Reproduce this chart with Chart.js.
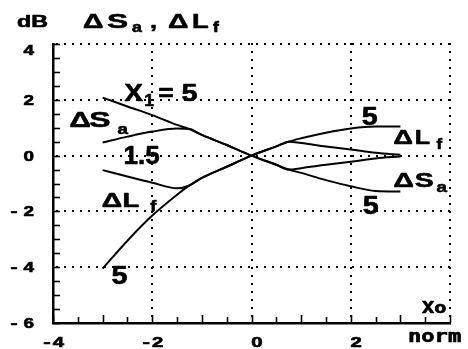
<!DOCTYPE html>
<html>
<head>
<meta charset="utf-8">
<script src="https://cdn.jsdelivr.net/npm/chart.js@4/dist/chart.umd.min.js"></script>
<style>
  html, body { margin: 0; padding: 0; background: #fff; }
</style>
</head>
<body>
<canvas id="c" width="468" height="349"></canvas>
<script>
// Normalised offset Xo
const xNorm = [-3, -2.5, -2, -1.5, -1.25, -1, -0.5, 0, 0.5, 0.75, 1, 1.5, 2, 2.5, 3];

// Level changes in dB for X1 = 5 and X1 = 1.5
const dSa_X5  = [2.08, 1.76, 1.45, 1.10, 0.95, 0.74, 0.38, 0, -0.33, -0.50, -0.62, -0.88, -1.10, -1.27, -1.29];
const dSa_X15 = [0.47, 0.68, 0.86, 0.97, 0.95, 0.74, 0.38, 0, -0.33, -0.50, -0.45, -0.33, -0.22, -0.10, -0.03];
const dLf_X5  = [-4.05, -3.05, -2.15, -1.40, -1.07, -0.80, -0.40, 0, 0.33, 0.50, 0.62, 0.82, 0.97, 1.04, 1.04];
const dLf_X15 = [-0.52, -0.75, -0.97, -1.17, -1.07, -0.80, -0.40, 0, 0.33, 0.50, 0.45, 0.33, 0.22, 0.10, 0.03];

// Axis ticks
const xTickValues = [-4, -2, 0, 2];
const xTickLabels = ['-4', '-2', '0', '2'];
const yTickValues = [4, 2, 0, -2, -4, -6];
const yTickLabels = ['4', '2', '0', '-2', '-4', '-6'];
const xGridValues = [-2, 0, 2, 4];
const yGridValues = [4, 2, 0, -2, -4];
const minorStep = 0.5;

const pts = ys => xNorm.map((x, i) => ({ x, y: ys[i] }));

const SANS = '"Liberation Sans", Arial, sans-serif';
const MONO = '"DejaVu Sans Mono", monospace';

// Curve labels, placed in data units (left edge, baseline)
const curveLabels = [
  { t: 'X', x: -2.56, y: 1.97, size: 24, sx: 1.15 },
  { t: '1', x: -2.16, y: 1.76, size: 16, sx: 1.1 },
  { t: '=', x: -1.88, y: 1.97, size: 24, sx: 1.1 },
  { t: '5', x: -1.41, y: 1.97, size: 24, sx: 1.2 },

  { t: '\u0394', x: -3.67, y: 1.04, size: 22, sx: 1.35 },
  { t: 'S', x: -3.27, y: 1.04, size: 22, sx: 1.45 },
  { t: 'a', x: -2.70, y: 0.79, size: 15, sx: 1.25 },

  { t: '1.5', x: -2.58, y: -0.29, size: 26, sx: 1.0 },

  { t: '\u0394', x: -3.02, y: -1.83, size: 21, sx: 1.35 },
  { t: 'L', x: -2.60, y: -1.83, size: 21, sx: 1.3 },
  { t: 'f', x: -2.04, y: -1.97, size: 15, sx: 1.2 },

  { t: '5', x: -2.82, y: -4.59, size: 25, sx: 1.15 },
  { t: '5', x: 2.22, y: 1.08, size: 25, sx: 1.15 },

  { t: '\u0394', x: 2.86, y: 0.43, size: 20, sx: 1.35 },
  { t: 'L', x: 3.29, y: 0.43, size: 20, sx: 1.25 },
  { t: 'f', x: 3.73, y: 0.25, size: 14, sx: 1.2 },

  { t: '\u0394', x: 2.86, y: -1.11, size: 21, sx: 1.35 },
  { t: 'S', x: 3.29, y: -1.11, size: 21, sx: 1.35 },
  { t: 'a', x: 3.73, y: -1.29, size: 15, sx: 1.25 },

  { t: '5', x: 2.24, y: -2.08, size: 25, sx: 1.15 }
];

// Draws horizontally stretched, slightly heavier text
function put(ctx, text, px, py, font, sx, align) {
  ctx.save();
  ctx.font = font;
  ctx.textBaseline = 'alphabetic';
  const w = ctx.measureText(text).width * sx;
  const left = align === 'right' ? px - w : align === 'center' ? px - w / 2 : px;
  ctx.translate(left, py);
  ctx.scale(sx, 1);
  ctx.fillStyle = '#000';
  ctx.strokeStyle = '#000';
  ctx.lineWidth = 0.6;
  ctx.lineJoin = 'round';
  ctx.fillText(text, 0, 0);
  ctx.strokeText(text, 0, 0);
  ctx.restore();
  return left;
}

const frame = {
  id: 'frame',
  beforeDatasetsDraw(chart) {
    const { ctx, chartArea: a, scales: { x, y } } = chart;
    ctx.save();
    ctx.fillStyle = '#000';
    // dotted grid
    xGridValues.forEach(v => {
      const px = Math.round(x.getPixelForValue(v));
      for (let py = a.top; py <= a.bottom - 4; py += 8) ctx.fillRect(px - 1, py - 1, 2, 2);
    });
    yGridValues.forEach(v => {
      const py = Math.round(y.getPixelForValue(v));
      for (let px = a.left + 4; px <= a.right + 1; px += 8) ctx.fillRect(px - 1, py - 1, 2, 2);
    });
    ctx.restore();
  },
  afterDraw(chart) {
    const { ctx, chartArea: a, scales: { x, y } } = chart;
    ctx.save();
    ctx.strokeStyle = '#000';
    ctx.lineWidth = 1.6;
    // inward minor ticks
    for (let v = x.min; v <= x.max + 1e-9; v += minorStep) {
      const px = Math.round(x.getPixelForValue(v)) + 0.5;
      const len = Math.abs(v - Math.round(v)) < 1e-9 ? 8 : 6;
      ctx.beginPath(); ctx.moveTo(px, a.bottom); ctx.lineTo(px, a.bottom - len); ctx.stroke();
    }
    for (let v = y.min; v <= y.max + 1e-9; v += minorStep) {
      const py = Math.round(y.getPixelForValue(v)) + 0.5;
      ctx.beginPath(); ctx.moveTo(a.left, py); ctx.lineTo(a.left + 7, py); ctx.stroke();
    }

    // tick labels
    const tickFont = `bold 14px ${SANS}`;
    yTickValues.forEach((v, i) => {
      const py = Math.max(y.getPixelForValue(v), a.top + 6) + 5;
      const s = yTickLabels[i];
      const neg = s.startsWith('-');
      const l = put(ctx, neg ? s.slice(1) : s, 34, py, tickFont, 1.35, 'right');
      if (neg) put(ctx, '-', l - 6, py, tickFont, 1.5, 'right');
    });
    xTickValues.forEach((v, i) => {
      const px = x.getPixelForValue(v) + 11;
      const s = xTickLabels[i];
      const neg = s.startsWith('-');
      const l = put(ctx, neg ? s.slice(1) : s, px, a.bottom + 24, tickFont, 1.45, 'right');
      if (neg) put(ctx, '-', l - 2, a.bottom + 24, tickFont, 1.6, 'right');
    });

    // curve labels
    curveLabels.forEach(c => {
      put(ctx, c.t, x.getPixelForValue(c.x), y.getPixelForValue(c.y), `bold ${c.size}px ${SANS}`, c.sx, 'left');
    });

    // axis captions
    put(ctx, 'Xo', 422, a.bottom - 10, `bold 15px ${MONO}`, 1.35, 'left');
    put(ctx, 'norm', 408, 342, `bold 17px ${MONO}`, 1.3, 'left');

    // heading
    put(ctx, 'dB', 17, 27, `bold 16px ${SANS}`, 1.45, 'left');
    put(ctx, '\u0394', 83, 28, `bold 21px ${SANS}`, 1.35, 'left');
    put(ctx, 'S', 107, 28, `bold 21px ${SANS}`, 1.5, 'left');
    put(ctx, 'a', 132, 32, `bold 14px ${SANS}`, 1.25, 'left');
    put(ctx, ',', 150, 28, `bold 21px ${SANS}`, 1.2, 'left');
    put(ctx, '\u0394', 168, 28, `bold 21px ${SANS}`, 1.35, 'left');
    put(ctx, 'L', 192, 28, `bold 21px ${SANS}`, 1.3, 'left');
    put(ctx, 'f', 213, 32, `bold 14px ${SANS}`, 1.25, 'left');
    ctx.restore();
  }
};

const line = (label, ys) => ({
  label, data: pts(ys),
  borderColor: '#000', borderWidth: 2, pointRadius: 0,
  cubicInterpolationMode: 'monotone', fill: false
});

new Chart(document.getElementById('c'), {
  type: 'line',
  data: {
    datasets: [
      line('\u0394Sa X1=5', dSa_X5),
      line('\u0394Sa X1=1.5', dSa_X15),
      line('\u0394Lf X1=5', dLf_X5),
      line('\u0394Lf X1=1.5', dLf_X15)
    ]
  },
  options: {
    responsive: false,
    animation: false,
    devicePixelRatio: 1,
    layout: { padding: { top: 44, right: 18, left: 0, bottom: 0 } },
    plugins: { legend: { display: false }, tooltip: { enabled: false } },
    scales: {
      x: {
        type: 'linear', min: -4, max: 4,
        ticks: { display: false, stepSize: 2 },
        grid: { display: false },
        border: { display: true, color: '#000', width: 2.5 },
        afterFit(s) { s.height = 26; }
      },
      y: {
        type: 'linear', min: -6, max: 4,
        ticks: { display: false, stepSize: 2 },
        grid: { display: false },
        border: { display: true, color: '#000', width: 2.5 },
        afterFit(s) { s.width = 53; }
      }
    }
  },
  plugins: [frame]
});
</script>
</body>
</html>
